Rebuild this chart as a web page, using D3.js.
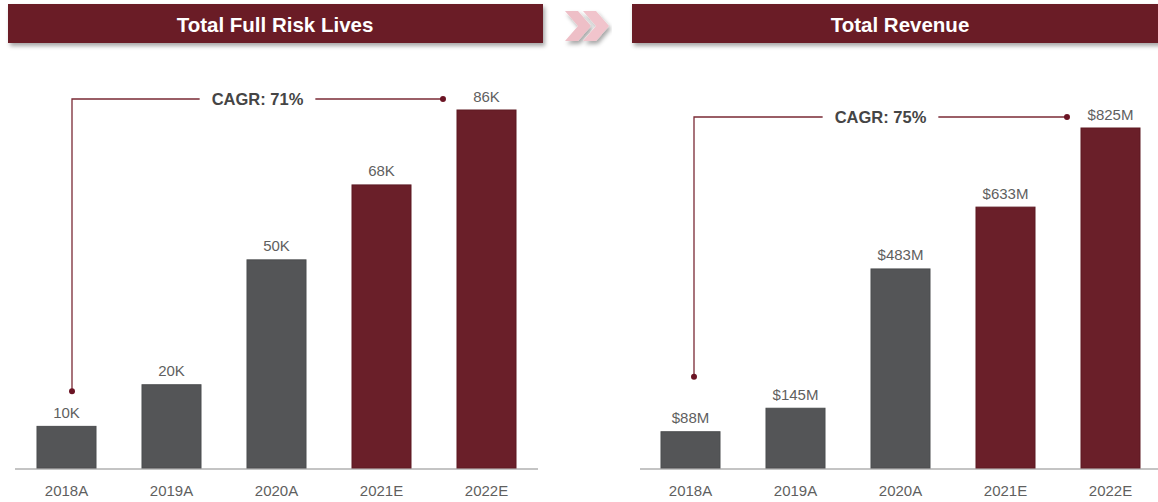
<!DOCTYPE html>
<html>
<head>
<meta charset="utf-8">
<script src="https://cdn.jsdelivr.net/npm/d3@7"></script>
<style>
  html, body { margin: 0; padding: 0; background: #ffffff; }
  svg { display: block; font-family: Arial, "Liberation Sans", sans-serif; }
</style>
</head>
<body>
<svg id="chart" width="1158" height="502"></svg>
<script>
// Categories shared by both panels
const years = ["2018A", "2019A", "2020A", "2021E", "2022E"];
const isEstimate = [false, false, false, true, true];

// Total full risk lives (thousands)
const livesValues = [10, 20, 50, 68, 86];
const livesLabels = ["10K", "20K", "50K", "68K", "86K"];

// Total revenue ($ millions)
const revenueValues = [88, 145, 483, 633, 825];
const revenueLabels = ["$88M", "$145M", "$483M", "$633M", "$825M"];

const panelTitles = ["Total Full Risk Lives", "Total Revenue"];
const cagrLabels = ["CAGR: 71%", "CAGR: 75%"];

const GREY = "#545557";
const MAROON = "#6a1f29";
const TEXT = "#5f5f5f";

const svg = d3.select("#chart");

// drop shadow for the title banners
const defs = svg.append("defs");
const shadow = defs.append("filter").attr("id", "shadow")
  .attr("x", "-5%").attr("y", "-30%").attr("width", "110%").attr("height", "170%");
shadow.append("feDropShadow").attr("dx", 2).attr("dy", 3).attr("stdDeviation", 2)
  .attr("flood-color", "#000").attr("flood-opacity", 0.35);

const baseY = 468;

const panels = [
  { title: panelTitles[0], values: livesValues, labels: livesLabels, cagr: cagrLabels[0],
    bannerX: 8, bannerW: 535, titleX: 275, range: [14, 539], axis: [15, 538], height: 358, dotDrop: 35, cagrX: 5.5 },
  { title: panelTitles[1], values: revenueValues, labels: revenueLabels, cagr: cagrLabels[1],
    bannerX: 632, bannerW: 540, titleX: 900, range: [638, 1163], axis: [640, 1158], height: 340, dotDrop: 55, cagrX: 3.5 }
];

panels.forEach(p => {
  const g = svg.append("g");

  // title banner
  g.append("rect")
    .attr("x", p.bannerX).attr("y", 4).attr("width", p.bannerW).attr("height", 39)
    .attr("fill", "#6b1e28").attr("filter", "url(#shadow)");
  g.append("text")
    .attr("x", p.titleX).attr("y", 24)
    .attr("text-anchor", "middle").attr("dominant-baseline", "central")
    .attr("fill", "#ffffff").attr("font-size", 20.5).attr("font-weight", "bold")
    .text(p.title);

  const x = d3.scaleBand().domain(years).range(p.range)
    .paddingInner(0.438).paddingOuter(0.219);
  const maxV = d3.max(p.values);
  const y = d3.scaleLinear().domain([0, maxV]).range([baseY, baseY - p.height]);

  // baseline
  g.append("line")
    .attr("x1", p.axis[0]).attr("x2", p.axis[1]).attr("y1", baseY + 1).attr("y2", baseY + 1)
    .attr("stroke", "#c4c4c4").attr("stroke-width", 2);

  // bars
  g.selectAll(".bar").data(p.values).join("rect")
    .attr("x", (d, i) => x(years[i]))
    .attr("y", d => y(d))
    .attr("width", x.bandwidth())
    .attr("height", d => baseY - y(d))
    .attr("fill", (d, i) => isEstimate[i] ? MAROON : GREY)
    .attr("stroke", (d, i) => isEstimate[i] ? "#5e1a23" : "#4c4d4f")
    .attr("stroke-width", 1);

  // value labels
  g.selectAll(".val").data(p.values).join("text")
    .attr("x", (d, i) => x(years[i]) + x.bandwidth() / 2)
    .attr("y", d => y(d) - 14)
    .attr("text-anchor", "middle").attr("dominant-baseline", "central")
    .attr("fill", TEXT).attr("font-size", 15)
    .text((d, i) => p.labels[i]);

  // category labels
  g.selectAll(".cat").data(years).join("text")
    .attr("x", d => x(d) + x.bandwidth() / 2)
    .attr("y", 490)
    .attr("text-anchor", "middle").attr("dominant-baseline", "central")
    .attr("fill", TEXT).attr("font-size", 15)
    .text(d => d);

  // CAGR bracket
  const n = years.length;
  const xStart = x(years[0]) + x.bandwidth() / 2 + p.cagrX;
  const yStart = y(p.values[0]) - p.dotDrop;
  const yTop = y(maxV) - 11;
  const xEnd = x(years[n - 1]) - 14;
  const mid = (xStart + xEnd) / 2;

  const label = g.append("text")
    .attr("x", mid).attr("y", yTop)
    .attr("text-anchor", "middle").attr("dominant-baseline", "central")
    .attr("fill", "#454545").attr("font-size", 16.5).attr("font-weight", "bold")
    .text(p.cagr);
  const half = label.node().getComputedTextLength() / 2 + 12;

  const line = "#7a2a35";
  g.append("path")
    .attr("d", `M${xStart},${yStart}V${yTop}H${mid - half}`)
    .attr("fill", "none").attr("stroke", line).attr("stroke-width", 1.3);
  g.append("path")
    .attr("d", `M${mid + half},${yTop}H${xEnd}`)
    .attr("fill", "none").attr("stroke", line).attr("stroke-width", 1.3);
  g.append("circle").attr("cx", xStart).attr("cy", yStart).attr("r", 3).attr("fill", "#6b1424");
  g.append("circle").attr("cx", xEnd).attr("cy", yTop).attr("r", 3).attr("fill", "#6b1424");
});

// chevron arrows between the two panels
const chev = svg.append("g").attr("filter", "url(#shadow)");
const chevPath = (x0) => `M${x0},11 L${x0 + 13},11 L${x0 + 26},26 L${x0 + 13},41 L${x0},41 L${x0 + 13},26 Z`;
chev.append("path").attr("d", chevPath(565)).attr("fill", "#eebfc7");
chev.append("path").attr("d", chevPath(583)).attr("fill", "#f1c4cc");
</script>
</body>
</html>
